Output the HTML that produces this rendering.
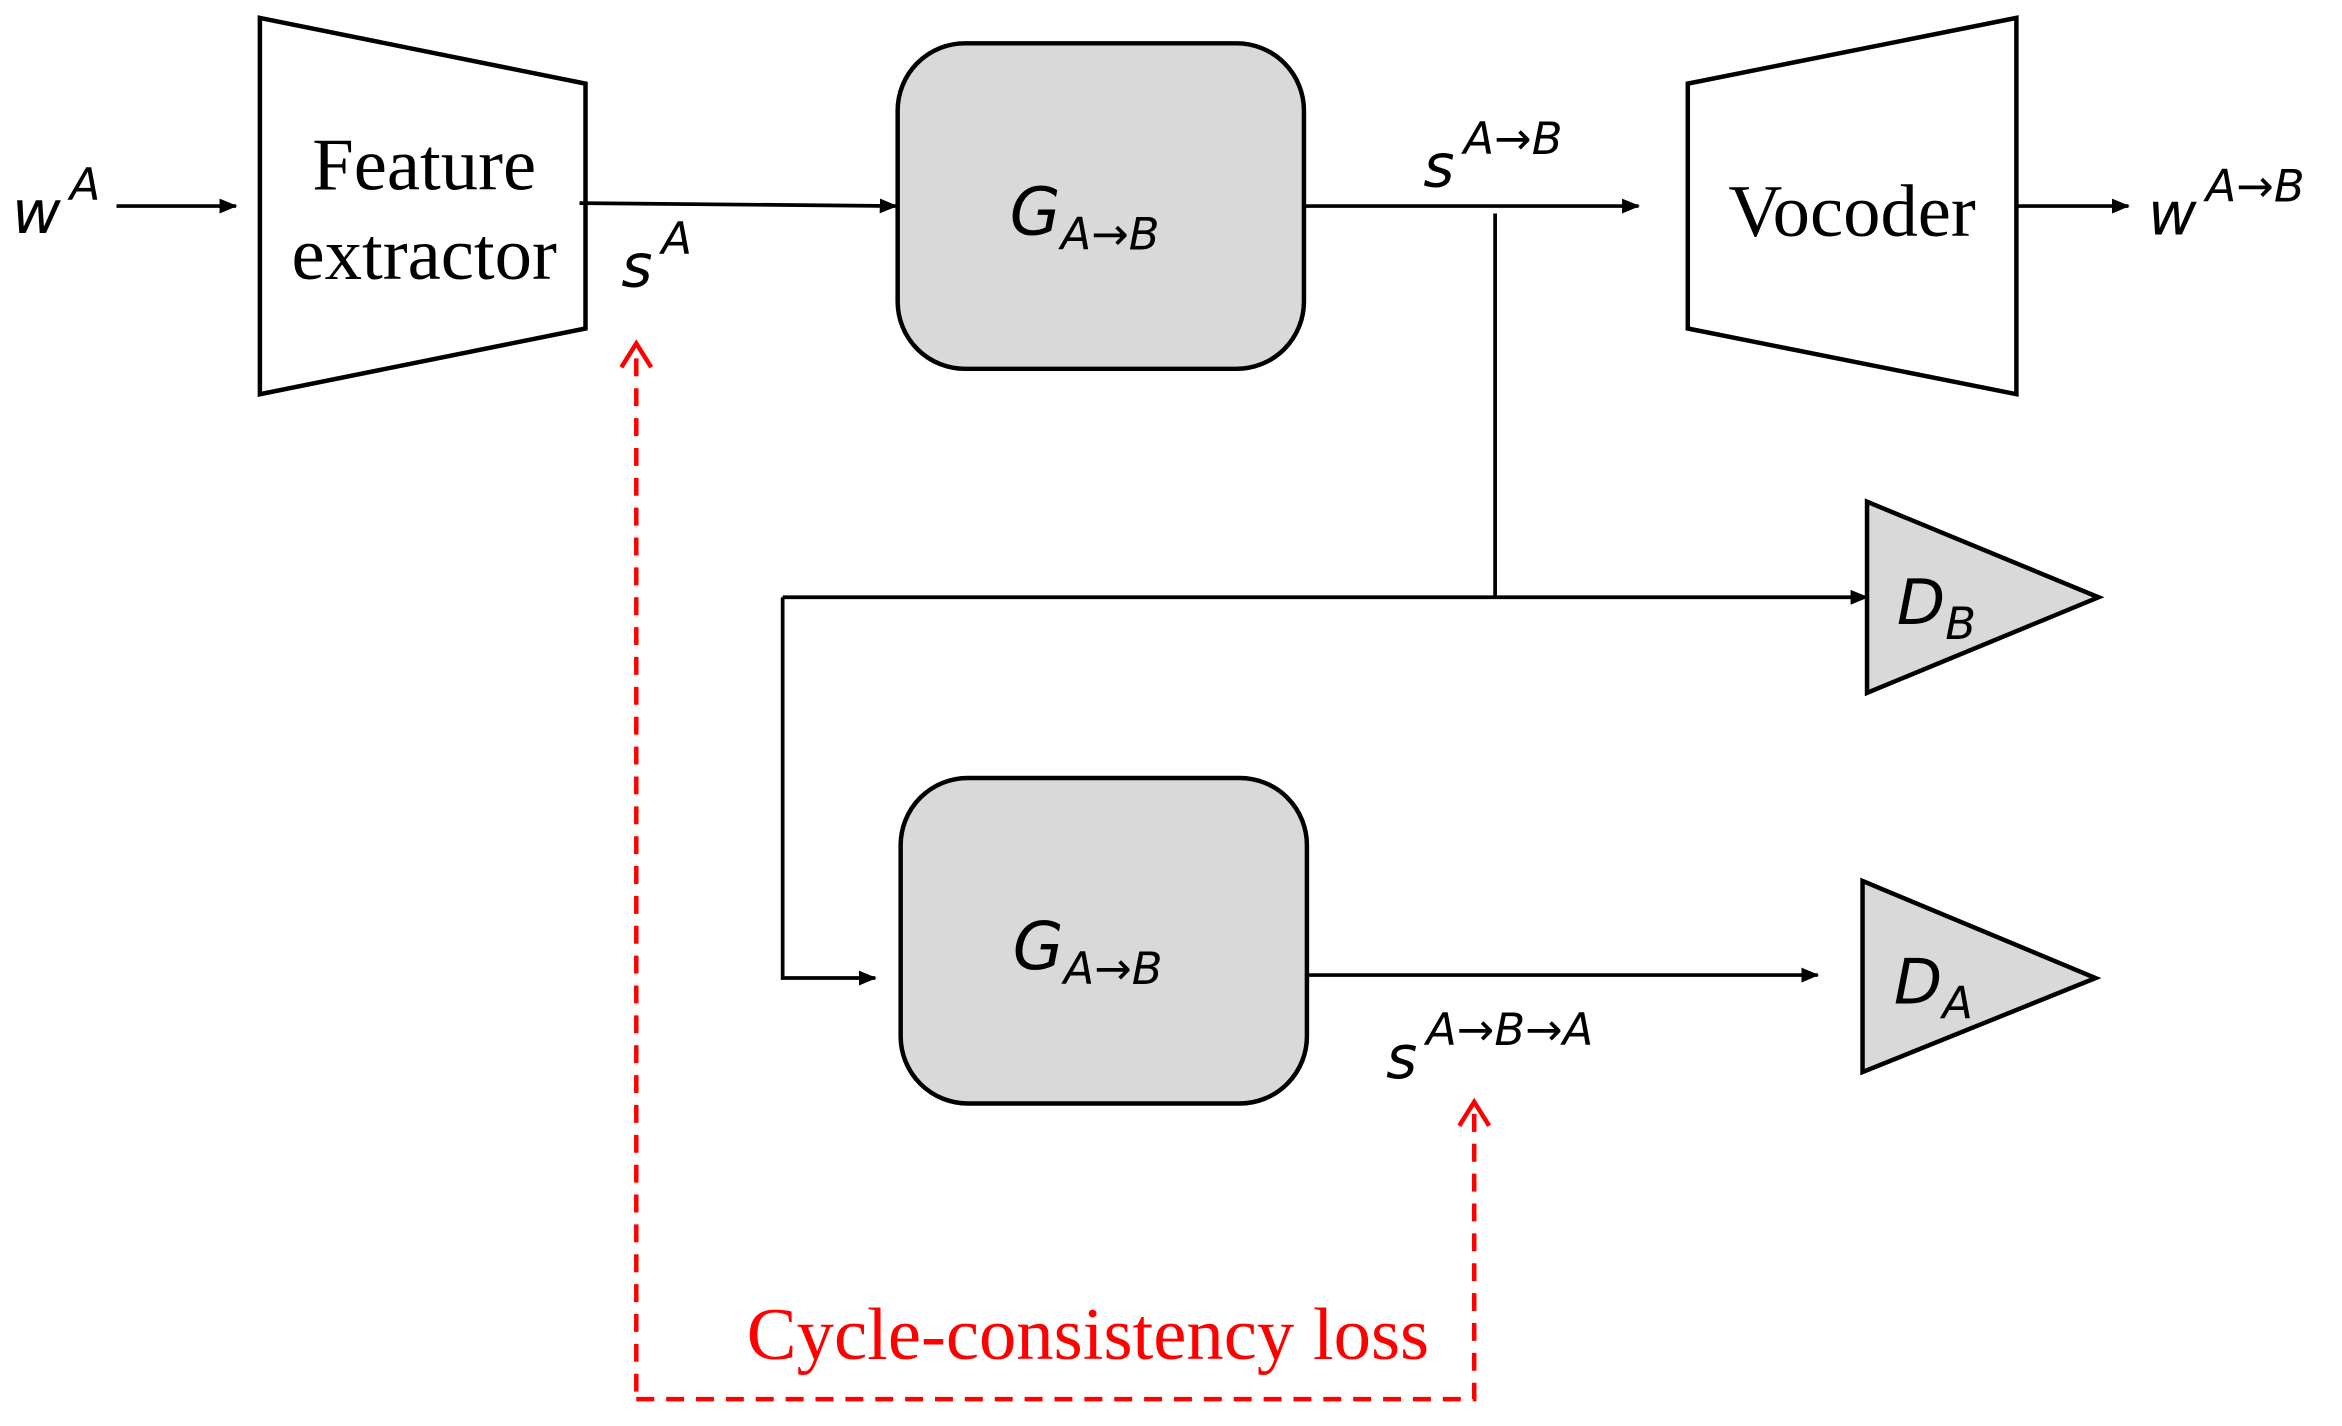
<!DOCTYPE html>
<html><head><meta charset="utf-8"><style>
html,body{margin:0;padding:0;background:#fff;}
svg{display:block;}
</style></head><body>
<svg width="2342" height="1426" viewBox="0 0 1568 955" preserveAspectRatio="none" xmlns="http://www.w3.org/2000/svg">
<defs>
<marker id="ar" markerWidth="12" markerHeight="10" refX="11" refY="5" orient="auto" markerUnits="userSpaceOnUse">
<path d="M0,0 L12,5 L0,10 z" fill="#000"/></marker>
</defs>
<g stroke="#000" stroke-width="3" fill="none">
<polygon points="174,12 392,56 392,220 174,264" fill="#fff"/>
<polygon points="1130,56 1350,12 1350,264 1130,220" fill="#fff"/>
<rect x="601" y="29" width="272" height="218" rx="45" fill="#d9d9d9"/>
<rect x="603" y="521" width="272" height="218" rx="45" fill="#d9d9d9"/>
<polygon points="1250,336 1405,400 1250,464" fill="#d9d9d9"/>
<polygon points="1247,590 1403,655 1247,718" fill="#d9d9d9"/>
</g>
<g stroke="#000" stroke-width="2.5" fill="none">
<line x1="78" y1="138" x2="158" y2="138" marker-end="url(#ar)"/>
<line x1="388" y1="136" x2="600" y2="138" marker-end="url(#ar)"/>
<line x1="873" y1="138" x2="1097" y2="138" marker-end="url(#ar)"/>
<line x1="1001" y1="143" x2="1001" y2="400"/>
<line x1="1350" y1="138" x2="1425" y2="138" marker-end="url(#ar)"/>
<line x1="524" y1="400" x2="1250" y2="400" marker-end="url(#ar)"/>
<polyline points="524,400 524,655 586,655" marker-end="url(#ar)"/>
<line x1="875" y1="653" x2="1217" y2="653" marker-end="url(#ar)"/>
</g>
<g stroke="#f00" stroke-width="3" fill="none">
<polyline points="426,932 426,232" stroke-dasharray="12,8"/>
<polyline points="426,937 987,937 987,740" stroke-dasharray="12,8"/>
<polyline points="416,246 426,230 436,246"/>
<polyline points="977,754 987,738 997,754"/>
</g>
<g font-family="Liberation Serif, serif" fill="#000">
<text x="284" y="127" font-size="50" text-anchor="middle">Feature</text>
<text x="284" y="187" font-size="50" text-anchor="middle">extractor</text>
<text x="1240" y="158" font-size="50" text-anchor="middle">Vocoder</text>
<text x="500" y="910" font-size="50" fill="#f00">Cycle-consistency loss</text>
</g>
<g font-family="DejaVu Sans, sans-serif" font-style="italic" fill="#000">
<text x="8" y="156" font-size="40">w<tspan font-size="30" dx="6" dy="-22">A</tspan></text>
<text x="416" y="192" font-size="40">s<tspan font-size="30" dx="6" dy="-22">A</tspan></text>
<text x="953" y="125" font-size="40">s<tspan font-size="30" dx="6" dy="-22">A→B</tspan></text>
<text x="1438" y="157" font-size="40">w<tspan font-size="30" dx="6" dy="-22">A→B</tspan></text>
<text x="928" y="722" font-size="40">s<tspan font-size="30" dx="6" dy="-22">A→B→A</tspan></text>
<text x="676" y="157" font-size="44">G<tspan font-size="30" dy="10">A→B</tspan></text>
<text x="678" y="649" font-size="44">G<tspan font-size="30" dy="10">A→B</tspan></text>
<text x="1270" y="418" font-size="42">D<tspan font-size="30" dy="10">B</tspan></text>
<text x="1268" y="672" font-size="42">D<tspan font-size="30" dy="10">A</tspan></text>
</g>
</svg>
</body></html>
